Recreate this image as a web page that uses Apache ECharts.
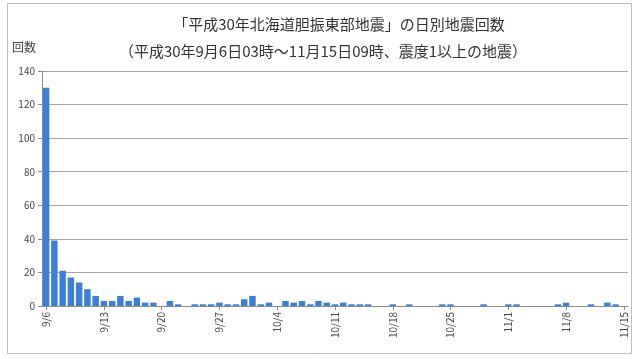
<!DOCTYPE html>
<html>
<head>
<meta charset="utf-8">
<script src="https://cdn.jsdelivr.net/npm/echarts@6/dist/echarts.min.js"></script>
<style>
  html, body { margin: 0; padding: 0; background: #fff; }
  #chart { width: 635px; height: 359px; }
</style>
</head>
<body>
<div id="chart"></div>
<script>
// Daily counts of felt earthquakes (seismic intensity 1 or more)
const titleText = '「平成30年北海道胆振東部地震」の日別地震回数';
const subtitleText = '（平成30年9月6日03時～11月15日09時、震度1以上の地震）';
const yAxisName = '回数';

const dates = [
  '9/6','9/7','9/8','9/9','9/10','9/11','9/12','9/13','9/14','9/15',
  '9/16','9/17','9/18','9/19','9/20','9/21','9/22','9/23','9/24','9/25',
  '9/26','9/27','9/28','9/29','9/30','10/1','10/2','10/3','10/4','10/5',
  '10/6','10/7','10/8','10/9','10/10','10/11','10/12','10/13','10/14','10/15',
  '10/16','10/17','10/18','10/19','10/20','10/21','10/22','10/23','10/24','10/25',
  '10/26','10/27','10/28','10/29','10/30','10/31','11/1','11/2','11/3','11/4',
  '11/5','11/6','11/7','11/8','11/9','11/10','11/11','11/12','11/13','11/14',
  '11/15'
];

const counts = [
  130, 39, 21, 17, 14, 10, 6, 3, 3, 6,
  3, 5, 2, 2, 0, 3, 1, 0, 1, 1,
  1, 2, 1, 1, 4, 6, 1, 2, 0, 3,
  2, 3, 1, 3, 2, 1, 2, 1, 1, 1,
  0, 0, 1, 0, 1, 0, 0, 0, 1, 1,
  0, 0, 0, 1, 0, 0, 1, 1, 0, 0,
  0, 0, 1, 2, 0, 0, 1, 0, 2, 1,
  0
];

const yTicks = { min: 0, max: 140, interval: 20 };

const chart = echarts.init(document.getElementById('chart'), null, { renderer: 'canvas' });

const textFont = '"Noto Sans CJK JP", "Noto Sans", sans-serif';

chart.setOption({
  animation: false,
  backgroundColor: '#ffffff',
  graphic: [{
    type: 'rect',
    shape: { x: 7.5, y: 3.5, width: 624, height: 350 },
    style: { fill: 'none', stroke: '#bdbdbd', lineWidth: 1 },
    silent: true
  }],
  title: [
    {
      text: titleText,
      left: 334, top: 12, textAlign: 'center',
      textStyle: { fontFamily: textFont, fontSize: 15, fontWeight: 'normal', color: '#333' }
    },
    {
      text: subtitleText,
      left: 318, top: 39, textAlign: 'center',
      textStyle: { fontFamily: textFont, fontSize: 15, fontWeight: 'normal', color: '#333' }
    }
  ],
  grid: { left: 42, right: 7, top: 71, bottom: 53, containLabel: false },
  xAxis: {
    type: 'category',
    data: dates,
    boundaryGap: true,
    axisLine: { show: true, lineStyle: { color: '#8c8c8c', width: 1 } },
    axisTick: { show: true, interval: 6, alignWithLabel: true, length: 4, lineStyle: { color: '#8c8c8c' } },
    axisLabel: {
      interval: 6, rotate: 90, margin: 6,
      fontFamily: textFont, fontSize: 10, color: '#444'
    },
    splitLine: { show: false }
  },
  yAxis: {
    type: 'value',
    min: yTicks.min, max: yTicks.max, interval: yTicks.interval,
    name: yAxisName,
    nameLocation: 'end',
    nameGap: 18,
    nameTextStyle: { fontFamily: textFont, fontSize: 12, color: '#444', align: 'right', padding: [0, 6, 0, 0] },
    axisLine: { show: true, lineStyle: { color: '#8c8c8c', width: 1 } },
    axisTick: { show: true, length: 4, lineStyle: { color: '#8c8c8c' } },
    axisLabel: { margin: 7, fontFamily: textFont, fontSize: 10, color: '#444' },
    splitLine: { show: true, lineStyle: { color: '#a6a6a6', width: 1.2 } }
  },
  series: [{
    type: 'bar',
    data: counts,
    barCategoryGap: '22%',
    itemStyle: { color: '#3b7fd8' }
  }]
});
</script>
</body>
</html>
